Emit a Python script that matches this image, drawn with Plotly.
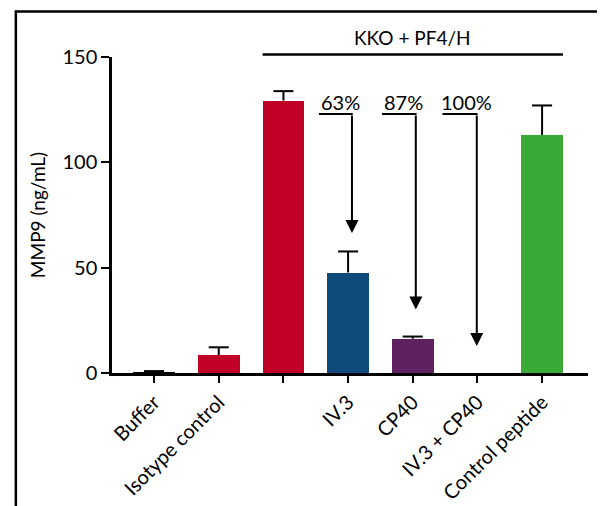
import plotly.graph_objects as go

categories = ["Buffer", "Isotype control", "", "IV.3", "CP40", "IV.3 + CP40", "Control peptide"]
values = [0.3, 8.5, 129.3, 47.7, 16.3, 0.0, 113.0]
errors = [0.6, 3.7, 4.5, 10.0, 1.0, 0.0, 14.0]
colors = ["#000000", "#C00026", "#C00026", "#0E4A7B", "#5D2162", "#3AA935", "#3AA935"]

y_ticks = [0, 50, 100, 150]
group_label = "KKO + PF4/H"
group_span = [1.678, 6.322]
group_line_y = 151.2
group_text_y = 159.2

pct_labels = ["63%", "87%", "100%"]
pct_x = [2.885, 3.855, 4.836]
pct_y = 128.7
arrow_start_x = [2.55, 3.525, 4.46]
arrow_x = [3.06, 4.047, 4.99]
arrow_top_y = 123.0
arrow_tip_y = [66.4, 30.1, 12.8]

FONT = "Lato"
FS = 20
xpos = list(range(len(categories)))
Y_MAX = 150

fig = go.Figure()
fig.add_trace(go.Bar(
    x=xpos, y=values, width=0.645,
    marker=dict(color=colors, line=dict(width=0)),
    showlegend=False, cliponaxis=False,
))

# upward-only error bars (stem + top cap)
cap = 0.155
ex, ey = [], []
for x, v, e in zip(xpos, values, errors):
    if e <= 0:
        continue
    ex += [x, x, None, x - cap, x + cap, None]
    ey += [v, v + e, None, v + e, v + e, None]
fig.add_trace(go.Scatter(x=ex, y=ey, mode="lines", line=dict(color="black", width=2),
                         showlegend=False, hoverinfo="skip", cliponaxis=False))

W, H = 605, 506
OFF = 8  # page body margin offset
# desired plot-area box in the viewport
VL, VR, VT, VB = 112.3, 588.0, 56.7, 373.0
L = VL - OFF
T = VT - OFF
R = W - (VR - OFF)
B = H - (VB - OFF)
pw = W - L - R
ph = H - T - B

def px_x(p):
    return (p - OFF - L) / pw

def px_y(p):
    return (H - B - (p - OFF)) / ph

fig.update_layout(
    width=W, height=H,
    margin=dict(l=L, r=R, t=T, b=B, pad=0, autoexpand=False),
    paper_bgcolor="white", plot_bgcolor="white",
    font=dict(family=FONT, size=FS, color="black"),
    bargap=0,
    xaxis=dict(
        range=[-0.651, 6.71], tickmode="array", tickvals=xpos, ticktext=categories,
        tickangle=-45, showline=True, linecolor="black", linewidth=2.5,
        ticks="outside", ticklen=7, tickwidth=2, tickcolor="black", automargin=False,
        showgrid=False, zeroline=False, tickfont=dict(size=FS, family=FONT),
    ),
    yaxis=dict(
        range=[0, Y_MAX], tickmode="array", tickvals=y_ticks, automargin=False,
        showline=True, linecolor="black", linewidth=2.5,
        ticks="outside", ticklen=8, tickwidth=2, tickcolor="black",
        showgrid=False, zeroline=False, tickfont=dict(size=FS, family=FONT),
        title=dict(text="MMP9 (ng/mL)", font=dict(size=19, family=FONT), standoff=12),
    ),
)

# frame around the figure
fig.add_shape(type="rect", xref="paper", yref="paper",
              x0=px_x(16.2), x1=px_x(603.8), y0=px_y(11.2), y1=px_y(560),
              line=dict(color="black", width=2.5), fillcolor="rgba(0,0,0,0)", layer="above")

# group bracket
fig.add_shape(type="line", xref="x", yref="paper",
              x0=group_span[0], x1=group_span[1],
              y0=group_line_y / Y_MAX, y1=group_line_y / Y_MAX,
              line=dict(color="black", width=2.5))
fig.add_annotation(x=sum(group_span) / 2, y=group_text_y / Y_MAX, xref="x", yref="paper",
                   xanchor="center", yanchor="middle",
                   text=group_label, showarrow=False, font=dict(size=19, family=FONT))

for lbl, tx, sx, ax_, tip in zip(pct_labels, pct_x, arrow_start_x, arrow_x, arrow_tip_y):
    fig.add_annotation(x=tx, y=pct_y, xref="x", yref="y", text=lbl,
                       xanchor="center", yanchor="middle",
                       showarrow=False, font=dict(size=FS, family=FONT))
    fig.add_shape(type="line", xref="x", yref="y", x0=sx, x1=ax_ + 0.012,
                  y0=arrow_top_y, y1=arrow_top_y, line=dict(color="black", width=2))
    fig.add_annotation(x=ax_, y=tip, xref="x", yref="y", axref="x", ayref="y",
                       ax=ax_, ay=arrow_top_y, text="", showarrow=True,
                       arrowhead=2, arrowsize=1.3, arrowwidth=2, arrowcolor="black")

fig.write_html("out.html")
